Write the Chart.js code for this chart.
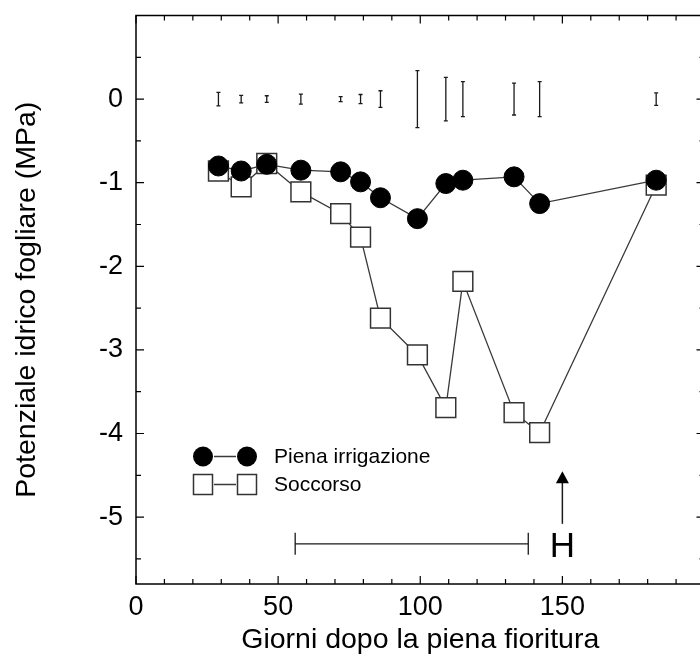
<!DOCTYPE html>
<html>
<head>
<meta charset="utf-8">
<script src="https://cdn.jsdelivr.net/npm/chart.js@4.4.1/dist/chart.umd.min.js"></script>
<style>
  html, body { margin: 0; padding: 0; background: #fff; overflow: hidden; }
  #wrap { width: 720px; height: 660px; }
</style>
</head>
<body>
<div id="wrap"><canvas id="chart" width="720" height="660"></canvas></div>
<script>
// days after full bloom
const days = [29, 37, 46, 58, 72, 79, 86, 99, 109, 115, 133, 142, 183];
// leaf water potential (MPa)
const piena = [-0.80, -0.86, -0.78, -0.85, -0.87, -0.99, -1.18, -1.43, -1.01, -0.97, -0.93, -1.25, -0.97];
const soccorso = [-0.86, -1.05, -0.77, -1.11, -1.37, -1.65, -2.62, -3.06, -3.69, -2.18, -3.75, -3.99, -1.03];
// half length of the bars drawn around zero
const lsd = [0.08, 0.045, 0.04, 0.06, 0.03, 0.055, 0.10, 0.34, 0.26, 0.21, 0.19, 0.21, 0.075];

const xTicks = [0, 50, 100, 150];
const yTicks = [0, -1, -2, -3, -4, -5];

const rangeBar = { from: 56, to: 138, y: -5.32 };
const harvest = { day: 150, from: -5.08, to: -4.45, labelY: -5.36, label: 'H' };

const FONT = "'Liberation Sans', Arial, sans-serif";
const ink = '#1a1a1a';

const toPoints = ys => days.map((d, i) => ({ x: d, y: ys[i] }));

// no extra room for labels that overflow the chart area
const noPad = s => {
  s.paddingTop = 0; s.paddingBottom = 0;
  s.paddingLeft = 0; s.paddingRight = 0;
};

const extras = {
  id: 'extras',
  beforeDatasetsDraw(chart) {
    const { ctx, scales: { x, y } } = chart;
    ctx.save();
    ctx.strokeStyle = ink;
    ctx.lineWidth = 1.3;

    // bars around zero
    days.forEach((d, i) => {
      const px = x.getPixelForValue(d);
      const t = y.getPixelForValue(lsd[i]);
      const b = y.getPixelForValue(-lsd[i]);
      ctx.beginPath();
      ctx.moveTo(px, t); ctx.lineTo(px, b);
      ctx.moveTo(px - 2, t); ctx.lineTo(px + 2, t);
      ctx.moveTo(px - 2, b); ctx.lineTo(px + 2, b);
      ctx.stroke();
    });

    // horizontal range bar
    const x1 = x.getPixelForValue(rangeBar.from);
    const x2 = x.getPixelForValue(rangeBar.to);
    const yb = y.getPixelForValue(rangeBar.y);
    ctx.beginPath();
    ctx.moveTo(x1, yb); ctx.lineTo(x2, yb);
    ctx.moveTo(x1, yb - 11); ctx.lineTo(x1, yb + 11);
    ctx.moveTo(x2, yb - 11); ctx.lineTo(x2, yb + 11);
    ctx.stroke();

    // harvest arrow
    const hx = x.getPixelForValue(harvest.day);
    const y0 = y.getPixelForValue(harvest.from);
    const y1 = y.getPixelForValue(harvest.to);
    ctx.lineWidth = 1.5;
    ctx.beginPath();
    ctx.moveTo(hx, y0); ctx.lineTo(hx, y1 + 10);
    ctx.stroke();
    ctx.fillStyle = '#000';
    ctx.beginPath();
    ctx.moveTo(hx, y1);
    ctx.lineTo(hx - 6.5, y1 + 12);
    ctx.lineTo(hx + 6.5, y1 + 12);
    ctx.closePath();
    ctx.fill();
    ctx.font = '35px ' + FONT;
    ctx.textAlign = 'center';
    ctx.textBaseline = 'middle';
    ctx.fillText(harvest.label, hx, y.getPixelForValue(harvest.labelY));
    ctx.restore();
  },
  afterDraw(chart) {
    const { ctx, chartArea: a, scales: { x, y } } = chart;
    ctx.save();
    ctx.strokeStyle = '#000';
    ctx.lineWidth = 1.5;
    ctx.strokeRect(a.left, a.top, a.right - a.left, a.bottom - a.top);

    // inward ticks on all four sides
    ctx.lineWidth = 1.2;
    ctx.beginPath();
    for (let v = 0; v <= 200; v += 10) {
      const px = x.getPixelForValue(v);
      const len = v % 50 === 0 ? 8 : 5;
      ctx.moveTo(px, a.bottom); ctx.lineTo(px, a.bottom - len);
      ctx.moveTo(px, a.top); ctx.lineTo(px, a.top + len);
    }
    for (let v = -5.5; v <= 1; v += 0.5) {
      const py = y.getPixelForValue(v);
      const len = Number.isInteger(v) ? 8 : 5;
      ctx.moveTo(a.left, py); ctx.lineTo(a.left + len, py);
      ctx.moveTo(a.right, py); ctx.lineTo(a.right - len, py);
    }
    ctx.stroke();

    // legend
    const lx1 = a.left + 67, lx2 = a.left + 111;
    const r1 = a.top + 441, r2 = a.top + 469;
    ctx.strokeStyle = '#3a3a3a';
    ctx.lineWidth = 1.3;
    ctx.beginPath();
    ctx.moveTo(lx1 + 11, r1); ctx.lineTo(lx2 - 11, r1);
    ctx.moveTo(lx1 + 11, r2); ctx.lineTo(lx2 - 11, r2);
    ctx.stroke();
    ctx.fillStyle = '#000';
    [lx1, lx2].forEach(cx => {
      ctx.beginPath();
      ctx.arc(cx, r1, 10, 0, Math.PI * 2);
      ctx.fill();
    });
    ctx.fillStyle = '#fff';
    ctx.strokeStyle = '#333';
    ctx.lineWidth = 1.5;
    [lx1, lx2].forEach(cx => {
      ctx.fillRect(cx - 9.5, r2 - 10, 19, 20);
      ctx.strokeRect(cx - 9.5, r2 - 10, 19, 20);
    });
    ctx.fillStyle = '#000';
    ctx.font = '21px ' + FONT;
    ctx.textAlign = 'left';
    ctx.textBaseline = 'middle';
    ctx.fillText(chart.data.datasets[0].label, a.left + 138, r1 + 1);
    ctx.fillText(chart.data.datasets[1].label, a.left + 138, r2 + 1);
    ctx.restore();
  }
};

new Chart(document.getElementById('chart'), {
  type: 'scatter',
  data: {
    datasets: [
      {
        label: 'Piena irrigazione',
        data: toPoints(piena),
        showLine: true,
        borderColor: '#3a3a3a',
        borderWidth: 1.3,
        pointStyle: 'circle',
        pointRadius: 10,
        pointBackgroundColor: '#000',
        pointBorderColor: '#000',
        pointBorderWidth: 1,
        order: 0
      },
      {
        label: 'Soccorso',
        data: toPoints(soccorso),
        showLine: true,
        borderColor: '#3a3a3a',
        borderWidth: 1.3,
        pointStyle: 'rect',
        pointRadius: 14,
        pointBackgroundColor: '#fff',
        pointBorderColor: '#333',
        pointBorderWidth: 1.5,
        order: 1
      }
    ]
  },
  options: {
    responsive: false,
    animation: false,
    layout: { padding: { left: 0, top: 12, right: 13, bottom: 0 } },
    plugins: { legend: { display: false }, tooltip: { enabled: false } },
    scales: {
      x: {
        type: 'linear',
        min: 0,
        max: 200,
        grid: { display: false, drawTicks: false },
        border: { display: false },
        afterBuildTicks: s => { s.ticks = xTicks.map(v => ({ value: v })); },
        afterFit: s => { s.height = 76; noPad(s); },
        ticks: {
          autoSkip: false,
          maxRotation: 0,
          padding: 7,
          color: '#000',
          font: { family: FONT, size: 27 },
          callback: v => String(v)
        },
        title: {
          display: true,
          text: 'Giorni dopo la piena fioritura',
          color: '#000',
          font: { family: FONT, size: 28.5 },
          padding: { top: 0, bottom: 3 }
        }
      },
      y: {
        type: 'linear',
        min: -5.8,
        max: 1,
        grid: { display: false, drawTicks: false },
        border: { display: false },
        afterBuildTicks: s => { s.ticks = yTicks.map(v => ({ value: v })); },
        afterFit: s => { s.width = 136; noPad(s); },
        ticks: {
          autoSkip: false,
          padding: 13,
          color: '#000',
          font: { family: FONT, size: 27 },
          callback: v => String(v)
        },
        title: {
          display: true,
          text: 'Potenziale idrico fogliare (MPa)',
          color: '#000',
          font: { family: FONT, size: 28.5 },
          padding: { top: 10, bottom: 0 }
        }
      }
    }
  },
  plugins: [extras]
});
</script>
</body>
</html>
